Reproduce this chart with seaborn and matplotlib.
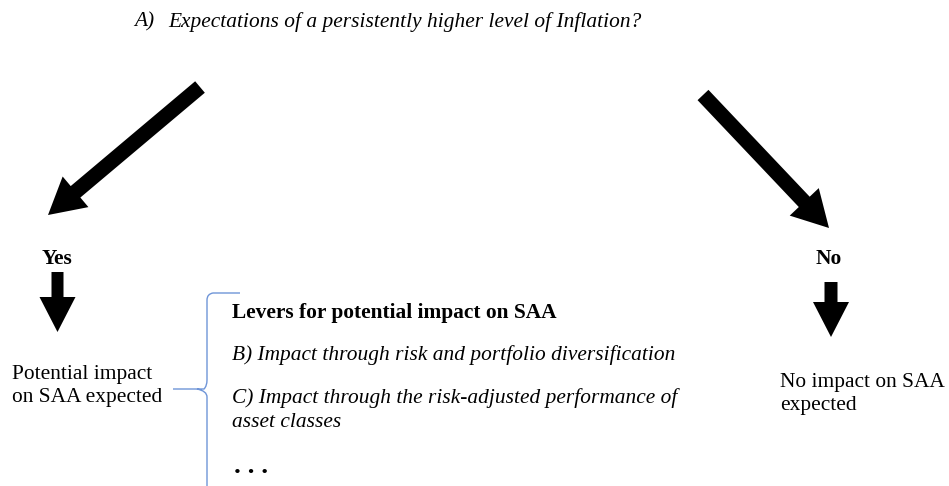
import seaborn as sns
import matplotlib.pyplot as plt
from matplotlib.patches import FancyArrow, PathPatch
from matplotlib.path import Path

# Text content
question_tag = 'A)'
question = 'Expectations of a persistently higher level of Inflation?'
answers = ['Yes', 'No']
outcomes = ['Potential impact\non SAA expected', 'No impact on SAA\nexpected']
levers_title = 'Levers for potential impact on SAA'
levers = ['B) Impact through risk and portfolio diversification',
          'C) Impact through the risk-adjusted performance of\nasset classes']
more = '. . .'

sns.set_style('white')
plt.rcParams['font.family'] = ['Liberation Serif', 'DejaVu Serif']
plt.rcParams['text.color'] = 'black'

fig = plt.figure(figsize=(9.49, 4.86), dpi=100)
ax = fig.add_axes([0, 0, 1, 1])
ax.set_xlim(0, 949)
ax.set_ylim(486, 0)
ax.axis('off')

fs = 15.4
ls = 1.35

# Question
ax.text(134, 22, question_tag, fontsize=fs, style='italic', va='center')
ax.text(168, 22, question, fontsize=fs, style='italic', va='center')

# Diagonal arrows
def arrow(x0, y0, x1, y1, w, hw, hl):
    ax.add_patch(FancyArrow(x0, y0, x1 - x0, y1 - y0, width=w, head_width=hw,
                            head_length=hl, length_includes_head=True,
                            color='black', lw=0))

arrow(200, 87, 48, 215, 15, 40, 36)
arrow(703, 95, 829, 228, 15, 40, 36)

# Yes / No branches
ax.text(57, 259, answers[0], fontsize=fs, fontweight='bold', ha='center', va='center')
ax.text(829, 259, answers[1], fontsize=fs, fontweight='bold', ha='center', va='center')
arrow(57.5, 272, 57.5, 332, 12, 36, 35)
arrow(831, 282, 831, 337, 13, 36, 35)

ax.text(12, 386, outcomes[0], fontsize=fs, va='center', linespacing=ls)
ax.text(780, 394, outcomes[1], fontsize=fs, va='center', linespacing=ls)

# Brace
verts = [(240, 293), (213, 293), (207, 294), (207, 300),
         (207, 380), (207, 386), (204, 389), (197, 389),
         (173, 389), (197, 389), (207, 391), (207, 397),
         (207, 490)]
codes = [Path.MOVETO, Path.LINETO, Path.CURVE3, Path.CURVE3,
         Path.LINETO, Path.CURVE3, Path.CURVE3, Path.LINETO,
         Path.LINETO, Path.MOVETO, Path.CURVE3, Path.CURVE3,
         Path.LINETO]
ax.add_patch(PathPatch(Path(verts, codes), fill=False, ec='#6f95d8', lw=1.0))

# Levers
ax.text(232, 313, levers_title, fontsize=fs, fontweight='bold', va='center')
ax.text(232, 355, levers[0], fontsize=fs, style='italic', va='center')
ax.text(232, 410, levers[1], fontsize=fs, style='italic', va='center', linespacing=ls)
ax.text(234, 466, more, fontsize=19.5, fontweight='bold', va='center')

fig.savefig('out.png', dpi=100)
